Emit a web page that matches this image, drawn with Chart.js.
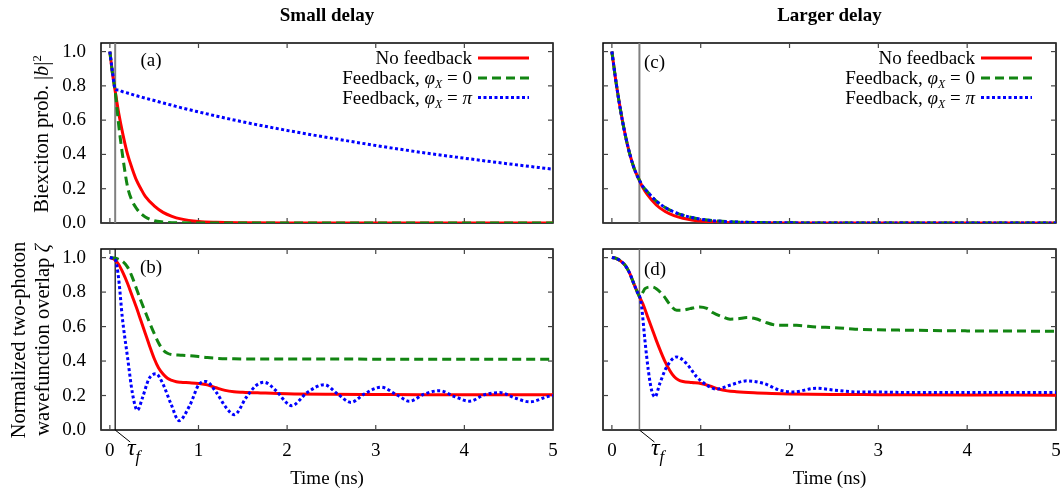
<!DOCTYPE html>
<html><head><meta charset="utf-8">
<script src="https://cdn.jsdelivr.net/npm/chart.js@4.4.1/dist/chart.umd.min.js"></script>
<style>
html,body{margin:0;padding:0;background:#fff;}
#wrap{position:relative;width:1061px;height:495px;overflow:hidden;font-family:"Liberation Serif","Times New Roman",serif;color:#000;}
.panel{position:absolute;}
.panel canvas{display:block;}
.t{position:absolute;white-space:nowrap;font-size:19px;line-height:1.15;transform:translate(-50%,-50%);}
.r{position:absolute;white-space:nowrap;font-size:19px;line-height:1.15;transform:translateY(-50%);text-align:right;}
.rot{transform:translate(-50%,-50%) rotate(-90deg);text-align:center;font-size:20.5px;}
.b{font-weight:bold;}
sub{font-size:0.62em;vertical-align:-0.35em;line-height:0;}
sup{font-size:0.62em;vertical-align:0.55em;line-height:0;}
.tau{font-size:24px;}
.tau sub{font-size:0.7em;vertical-align:-0.4em;}
</style>
</head><body>
<div id="wrap">
  <div class="panel" id="pA" style="left:0;top:0;width:560px;height:236px;"><canvas id="cA" width="560" height="236"></canvas></div>
  <div class="panel" id="pB" style="left:0;top:236px;width:560px;height:259px;"><canvas id="cB" width="560" height="259"></canvas></div>
  <div class="panel" id="pC" style="left:560px;top:0;width:501px;height:236px;"><canvas id="cC" width="501" height="236"></canvas></div>
  <div class="panel" id="pD" style="left:560px;top:236px;width:501px;height:259px;"><canvas id="cD" width="501" height="259"></canvas></div>

  <div class="t b" style="left:327px;top:15px;">Small delay</div>
  <div class="t b" style="left:829.5px;top:15px;">Larger delay</div>

  <div class="t rot" style="left:42px;top:134px;">Biexciton prob. |<i>b</i>|<sup>2</sup></div>
  <div class="t rot" style="left:30px;top:339.5px;line-height:24px;">Normalized two-photon<br>wavefunction overlap <i>ζ</i></div>

  <div class="t" style="left:327px;top:478px;">Time (ns)</div>
  <div class="t" style="left:829.5px;top:478px;">Time (ns)</div>

  <div class="t" style="left:151px;top:60px;">(a)</div>
  <div class="t" style="left:151px;top:267px;">(b)</div>
  <div class="t" style="left:654.5px;top:62px;">(c)</div>
  <div class="t" style="left:655px;top:269px;">(d)</div>

  <div class="r" style="right:589px;top:58px;">No feedback</div>
  <div class="r" style="right:589px;top:78px;">Feedback, <i>φ</i><sub><i>X</i></sub> = 0</div>
  <div class="r" style="right:589px;top:97.5px;">Feedback, <i>φ</i><sub><i>X</i></sub> = <i>π</i></div>
  <div class="r" style="right:86px;top:58px;">No feedback</div>
  <div class="r" style="right:86px;top:78px;">Feedback, <i>φ</i><sub><i>X</i></sub> = 0</div>
  <div class="r" style="right:86px;top:97.5px;">Feedback, <i>φ</i><sub><i>X</i></sub> = <i>π</i></div>

  <div class="r tau" style="left:127px;top:448px;"><i>τ</i><sub><i>f</i></sub></div>
  <div class="r tau" style="left:651px;top:448px;"><i>τ</i><sub><i>f</i></sub></div>
</div>
<script>
// ---------- axes ----------
const xTicks = [0, 1, 2, 3, 4, 5];
const xTickLabels = ['0', '1', '2', '3', '4', '5'];
const yTicks = [0, 0.2, 0.4, 0.6, 0.8, 1.0];
const yTickLabels = ['0.0', '0.2', '0.4', '0.6', '0.8', '1.0'];
const xRange = [-0.1, 5];
const yRange = [0, 1.05];
const tauSmall = 0.06;   // feedback delay, left column (ns)
const tauLarge = 0.31;   // feedback delay, right column (ns)
const seriesNames = ['No feedback', 'Feedback, φX = 0', 'Feedback, φX = π'];

// ---------- (a) biexciton probability, small delay ----------
const tA = [0, 0.03, 0.06, 0.1, 0.15, 0.2, 0.25, 0.3, 0.35, 0.4, 0.5, 0.6, 0.7, 0.8, 1.0, 1.2, 1.5, 2, 2.5, 3, 3.5, 4, 4.5, 5];
const aNoFeedback = [1.00, 0.87, 0.77, 0.64, 0.51, 0.40, 0.32, 0.25, 0.20, 0.155, 0.10, 0.062, 0.039, 0.024, 0.009, 0.004, 0.0015, 0, 0, 0, 0, 0, 0, 0];
const aFbPhi0 = [1.00, 0.87, 0.77, 0.57, 0.37, 0.21, 0.13, 0.085, 0.055, 0.035, 0.014, 0.006, 0.002, 0.001, 0, 0, 0, 0, 0, 0, 0, 0, 0, 0];
const aFbPhiPi = [1.00, 0.88, 0.78, 0.775, 0.765, 0.758, 0.75, 0.742, 0.735, 0.728, 0.715, 0.70, 0.687, 0.673, 0.648, 0.624, 0.59, 0.54, 0.495, 0.452, 0.413, 0.378, 0.345, 0.314];

// ---------- (b) two-photon overlap, small delay ----------
const tBred = [0, 0.05, 0.1, 0.15, 0.2, 0.25, 0.3, 0.35, 0.4, 0.45, 0.5, 0.55, 0.6, 0.65, 0.7, 0.75, 0.8, 0.9, 1.0, 1.1, 1.2, 1.3, 1.4, 1.5, 1.7, 2.0, 2.5, 3, 3.5, 4, 4.5, 5];
const bNoFeedback = [1.0, 0.99, 0.96, 0.91, 0.85, 0.78, 0.71, 0.635, 0.56, 0.485, 0.415, 0.36, 0.325, 0.30, 0.288, 0.28, 0.277, 0.274, 0.27, 0.262, 0.245, 0.23, 0.222, 0.219, 0.215, 0.21, 0.207, 0.206, 0.205, 0.205, 0.205, 0.205];
const tBgreen = [0, 0.05, 0.1, 0.15, 0.2, 0.25, 0.3, 0.35, 0.4, 0.45, 0.5, 0.55, 0.6, 0.65, 0.7, 0.8, 0.9, 1.0, 1.1, 1.2, 1.4, 1.7, 2, 3, 4, 5];
const bFbPhi0 = [1.0, 0.998, 0.99, 0.975, 0.945, 0.89, 0.82, 0.75, 0.685, 0.62, 0.56, 0.505, 0.465, 0.445, 0.437, 0.434, 0.431, 0.426, 0.42, 0.416, 0.413, 0.412, 0.412, 0.411, 0.41, 0.41];
const tBblue = [0, 0.03, 0.06, 0.08, 0.105, 0.14, 0.2, 0.256, 0.31, 0.37, 0.44, 0.52, 0.59, 0.69, 0.78, 0.9, 1.01, 1.085, 1.2, 1.31, 1.405, 1.54, 1.65, 1.74, 1.875, 1.99, 2.05, 2.23, 2.42, 2.57, 2.72, 2.87, 3.06, 3.25, 3.38, 3.55, 3.72, 3.89, 4.06, 4.23, 4.4, 4.57, 4.74, 4.94, 5.0];
const bFbPhiPi = [1.0, 0.997, 0.99, 0.95, 0.85, 0.655, 0.42, 0.209, 0.115, 0.19, 0.296, 0.326, 0.277, 0.151, 0.054, 0.141, 0.267, 0.281, 0.219, 0.131, 0.089, 0.19, 0.258, 0.277, 0.228, 0.16, 0.141, 0.219, 0.263, 0.209, 0.16, 0.209, 0.248, 0.2, 0.167, 0.209, 0.228, 0.194, 0.167, 0.205, 0.217, 0.186, 0.163, 0.194, 0.2];

// ---------- (c) biexciton probability, larger delay ----------
const tC = [0, 0.05, 0.1, 0.15, 0.2, 0.25, 0.3, 0.35, 0.4, 0.5, 0.6, 0.7, 0.8, 0.9, 1.0, 1.2, 1.5, 2, 3, 4, 5];
const cNoFeedback = [1.0, 0.81, 0.65, 0.515, 0.405, 0.32, 0.26, 0.205, 0.165, 0.105, 0.067, 0.043, 0.028, 0.018, 0.011, 0.005, 0.0015, 0, 0, 0, 0];
const cFbPhi0 = [1.0, 0.81, 0.65, 0.515, 0.405, 0.32, 0.26, 0.213, 0.182, 0.128, 0.09, 0.064, 0.045, 0.032, 0.022, 0.011, 0.004, 0.001, 0, 0, 0];
const cFbPhiPi = [1.0, 0.81, 0.65, 0.515, 0.405, 0.32, 0.26, 0.213, 0.182, 0.128, 0.09, 0.064, 0.045, 0.032, 0.022, 0.011, 0.004, 0.001, 0, 0, 0];

// ---------- (d) two-photon overlap, larger delay ----------
const tDred = [0, 0.05, 0.1, 0.15, 0.2, 0.25, 0.3, 0.35, 0.4, 0.45, 0.5, 0.55, 0.6, 0.65, 0.7, 0.75, 0.8, 0.9, 1.0, 1.1, 1.2, 1.3, 1.4, 1.6, 1.8, 2.0, 2.5, 3, 4, 5];
const dNoFeedback = [1.0, 0.995, 0.98, 0.955, 0.91, 0.845, 0.785, 0.73, 0.66, 0.59, 0.52, 0.455, 0.395, 0.347, 0.31, 0.29, 0.281, 0.275, 0.27, 0.256, 0.238, 0.227, 0.222, 0.216, 0.212, 0.209, 0.206, 0.205, 0.203, 0.202];
const tDgreen = [0, 0.05, 0.1, 0.15, 0.2, 0.25, 0.3, 0.316, 0.35, 0.372, 0.45, 0.5, 0.58, 0.65, 0.73, 0.8, 0.88, 0.99, 1.07, 1.14, 1.25, 1.33, 1.42, 1.52, 1.62, 1.71, 1.86, 2.08, 2.3, 2.5, 2.74, 3.0, 3.3, 4.0, 4.5, 5.0];
const dFbPhi0 = [1.0, 0.995, 0.98, 0.955, 0.91, 0.845, 0.785, 0.77, 0.80, 0.82, 0.83, 0.82, 0.78, 0.73, 0.695, 0.695, 0.704, 0.714, 0.705, 0.68, 0.655, 0.643, 0.645, 0.652, 0.645, 0.628, 0.608, 0.607, 0.597, 0.594, 0.585, 0.581, 0.579, 0.575, 0.574, 0.573];
const tDblue = [0, 0.05, 0.1, 0.15, 0.2, 0.25, 0.3, 0.316, 0.335, 0.372, 0.41, 0.447, 0.485, 0.54, 0.617, 0.73, 0.84, 0.955, 1.07, 1.18, 1.33, 1.52, 1.71, 1.89, 2.04, 2.3, 2.51, 2.74, 3.0, 3.27, 4.0, 5.0];
const dFbPhiPi = [1.0, 0.995, 0.98, 0.955, 0.91, 0.845, 0.785, 0.77, 0.714, 0.52, 0.347, 0.231, 0.192, 0.27, 0.366, 0.424, 0.386, 0.308, 0.26, 0.237, 0.26, 0.285, 0.27, 0.231, 0.221, 0.242, 0.231, 0.221, 0.22, 0.218, 0.217, 0.217];

// ---------- drawing ----------
const FONT = {family: "'Liberation Serif', 'Times New Roman', serif", size: 19};
const styles = [
  {borderColor: '#ff0000', borderWidth: 3, borderDash: [], order: 3},
  {borderColor: '#128512', borderWidth: 3, borderDash: [9, 5], order: 2},
  {borderColor: '#0000ff', borderWidth: 3, borderDash: [3, 2.5], order: 1}
];
const pts = (t, v) => t.map((x, i) => ({x: x, y: v[i]}));

function seg(ctx, x1, y1, x2, y2) { ctx.beginPath(); ctx.moveTo(x1, y1); ctx.lineTo(x2, y2); ctx.stroke(); }

const deco = {
  id: 'deco',
  beforeDatasetsDraw(chart, args, o) {
    const ctx = chart.ctx, a = chart.chartArea, x = chart.scales.x, y = chart.scales.y;
    ctx.save();
    ctx.lineCap = 'butt';
    ctx.strokeStyle = '#000'; ctx.lineWidth = 1.5;
    ctx.strokeRect(a.left, a.top, a.right - a.left, a.bottom - a.top);
    ctx.strokeStyle = '#444'; ctx.lineWidth = 1.2;
    x.ticks.forEach(t => { const p = x.getPixelForValue(t.value); seg(ctx, p, a.bottom, p, a.bottom - 5); seg(ctx, p, a.top, p, a.top + 5); });
    y.ticks.forEach(t => { const p = y.getPixelForValue(t.value); seg(ctx, a.left, p, a.left + 5, p); seg(ctx, a.right, p, a.right - 5, p); });
    const tx = x.getPixelForValue(o.tau);
    ctx.strokeStyle = o.tauColor; ctx.lineWidth = o.tauWidth;
    seg(ctx, tx, a.top, tx, a.bottom);
    if (o.pointer) { ctx.strokeStyle = '#000'; ctx.lineWidth = 1; seg(ctx, tx, a.bottom, tx + 15, a.bottom + 12); }
    ctx.restore();
  },
  afterDatasetsDraw(chart, args, o) {
    if (!o.legend) return;
    const ctx = chart.ctx, a = chart.chartArea;
    const rows = [15, 35, 54.5];
    ctx.save();
    chart.data.datasets.forEach((ds, i) => {
      ctx.strokeStyle = ds.borderColor; ctx.lineWidth = ds.borderWidth; ctx.setLineDash(ds.borderDash);
      seg(ctx, a.right - 75, a.top + rows[i], a.right - 24, a.top + rows[i]);
    });
    ctx.restore();
  }
};

function makeChart(id, box, area, series, cfg) {
  const YW = cfg.yLabels ? 60 : 30, XH = cfg.xLabels ? 40 : 8;
  const padding = {left: area.l - box.l - YW, top: area.t - box.t, right: box.l + box.w - area.r, bottom: box.t + box.h - area.b - XH};
  return new Chart(document.getElementById(id), {
    type: 'line',
    data: {datasets: series.map((s, i) => Object.assign({
      label: seriesNames[i], data: pts(s[0], s[1]), pointRadius: 0, fill: false,
      cubicInterpolationMode: 'monotone'
    }, styles[i]))},
    options: {
      responsive: false, animation: false, events: [],
      layout: {padding: padding},
      plugins: {legend: {display: false}, tooltip: {enabled: false},
        deco: {tau: cfg.tau, tauColor: cfg.tauColor, tauWidth: cfg.tauWidth, pointer: cfg.xLabels, legend: cfg.legend}},
      scales: {
        x: {type: 'linear', min: xRange[0], max: xRange[1],
          afterBuildTicks: s => { s.ticks = xTicks.map(v => ({value: v})); },
          afterFit: s => { s.height = XH; s.paddingLeft = 0; s.paddingRight = 0; },
          ticks: {display: cfg.xLabels, autoSkip: false, maxRotation: 0, padding: 2, font: FONT, color: '#000',
            callback: (v, i) => xTickLabels[i]},
          grid: {display: false}, border: {display: false}},
        y: {type: 'linear', min: yRange[0], max: yRange[1],
          afterBuildTicks: s => { s.ticks = yTicks.map(v => ({value: v})); },
          afterFit: s => { s.width = YW; s.paddingTop = 0; s.paddingBottom = 0; },
          ticks: {display: cfg.yLabels, autoSkip: false, padding: 7, font: FONT, color: '#000',
            callback: (v, i) => yTickLabels[i]},
          grid: {display: false}, border: {display: false}}
      }
    },
    plugins: [deco]
  });
}

makeChart('cA', {l: 0, t: 0, w: 560, h: 236}, {l: 101, t: 43, r: 553, b: 223},
  [[tA, aNoFeedback], [tA, aFbPhi0], [tA, aFbPhiPi]],
  {tau: tauSmall, tauColor: '#808080', tauWidth: 2, xLabels: false, yLabels: true, legend: true});
makeChart('cB', {l: 0, t: 236, w: 560, h: 259}, {l: 101, t: 249, r: 553, b: 430},
  [[tBred, bNoFeedback], [tBgreen, bFbPhi0], [tBblue, bFbPhiPi]],
  {tau: tauSmall, tauColor: '#000000', tauWidth: 1.2, xLabels: true, yLabels: true, legend: false});
makeChart('cC', {l: 560, t: 0, w: 501, h: 236}, {l: 603, t: 43, r: 1056, b: 223},
  [[tC, cNoFeedback], [tC, cFbPhi0], [tC, cFbPhiPi]],
  {tau: tauLarge, tauColor: '#808080', tauWidth: 2, xLabels: false, yLabels: false, legend: true});
makeChart('cD', {l: 560, t: 236, w: 501, h: 259}, {l: 603, t: 249, r: 1056, b: 430},
  [[tDred, dNoFeedback], [tDgreen, dFbPhi0], [tDblue, dFbPhiPi]],
  {tau: tauLarge, tauColor: '#707070', tauWidth: 1.5, xLabels: true, yLabels: false, legend: false});
</script>
</body></html>
